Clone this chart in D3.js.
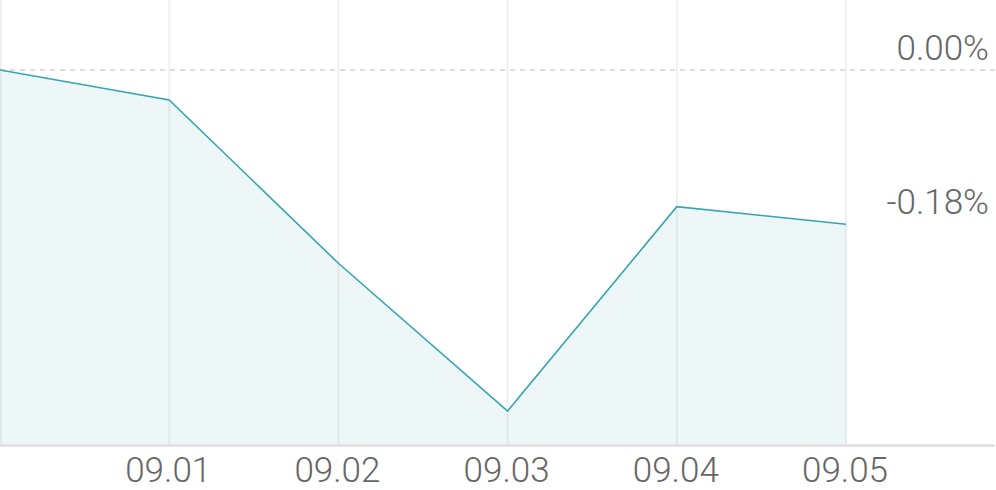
<!DOCTYPE html>
<html>
<head>
<meta charset="utf-8">
<script src="https://cdn.jsdelivr.net/npm/d3@7"></script>
<style>
html,body{margin:0;padding:0;background:#fff;}
svg{display:block;}
</style>
</head>
<body>
<svg id="chart" width="996" height="490"></svg>
<script>
const dates = ["08.31", "09.01", "09.02", "09.03", "09.04", "09.05"];
const changes = [0.00, -0.035, -0.2255, -0.398, -0.1595, -0.18];
const xTickLabels = ["09.01", "09.02", "09.03", "09.04", "09.05"];
const yTickValues = [0.00, -0.18];
const yTickLabels = ["0.00%", "-0.18%"];

const W = 996, H = 490;
const plotBottom = 444;
const svg = d3.select("#chart");

const x = d3.scalePoint().domain(dates).range([0, 846]);
const y = d3.scaleLinear().domain([-0.4364, 0.0817]).range([plotBottom, 0]);

// vertical grid
svg.append("g").selectAll("line").data(dates).join("line")
  .attr("x1", d => Math.max(1, x(d))).attr("x2", d => Math.max(1, x(d)))
  .attr("y1", 0).attr("y2", plotBottom)
  .attr("stroke", "#f0f0f0").attr("stroke-width", 2);

// area
const area = d3.area()
  .x((d, i) => x(dates[i]))
  .y0(plotBottom)
  .y1(d => y(d));
svg.append("path").datum(changes)
  .attr("d", area)
  .attr("fill", "rgba(58,168,176,0.09)");

// zero dashed line
svg.append("line")
  .attr("x1", 0).attr("x2", W)
  .attr("y1", y(0)).attr("y2", y(0))
  .attr("stroke", "#dddddd").attr("stroke-width", 2)
  .attr("stroke-dasharray", "5,5");

// line
const line = d3.line()
  .x((d, i) => x(dates[i]))
  .y(d => y(d));
svg.append("path").datum(changes)
  .attr("d", line)
  .attr("fill", "none")
  .attr("stroke", "#35a5ae")
  .attr("stroke-width", 1.6);

// bottom axis
const xAxis = d3.axisBottom(x)
  .tickValues(dates.slice(1))
  .tickFormat((d, i) => xTickLabels[i])
  .tickSize(0).tickPadding(0);
const gx = svg.append("g").attr("transform", `translate(0,${plotBottom})`).call(xAxis);
gx.select(".domain").remove();
gx.selectAll("text")
  .attr("dy", null).attr("y", 38)
  .attr("x", -1.5)
  .attr("fill", "#666")
  .style("font-family", "Roboto, sans-serif")
  .style("font-weight", 300)
  .style("font-size", "35px");
svg.append("line")
  .attr("x1", 0).attr("x2", 995)
  .attr("y1", plotBottom + 1.5).attr("y2", plotBottom + 1.5)
  .attr("stroke", "#e3e3e3").attr("stroke-width", 3);

// right labels
const yAxis = d3.axisRight(y)
  .tickValues(yTickValues)
  .tickFormat((d, i) => yTickLabels[i])
  .tickSize(0).tickPadding(0);
const gy = svg.append("g").attr("transform", `translate(989,0)`).call(yAxis);
gy.select(".domain").remove();
gy.selectAll("text")
  .attr("dy", null).attr("y", -11)
  .attr("x", 0)
  .attr("text-anchor", "end")
  .attr("fill", "#666")
  .style("font-family", "Roboto, sans-serif")
  .style("font-weight", 300)
  .style("font-size", "35px");
</script>
</body>
</html>
